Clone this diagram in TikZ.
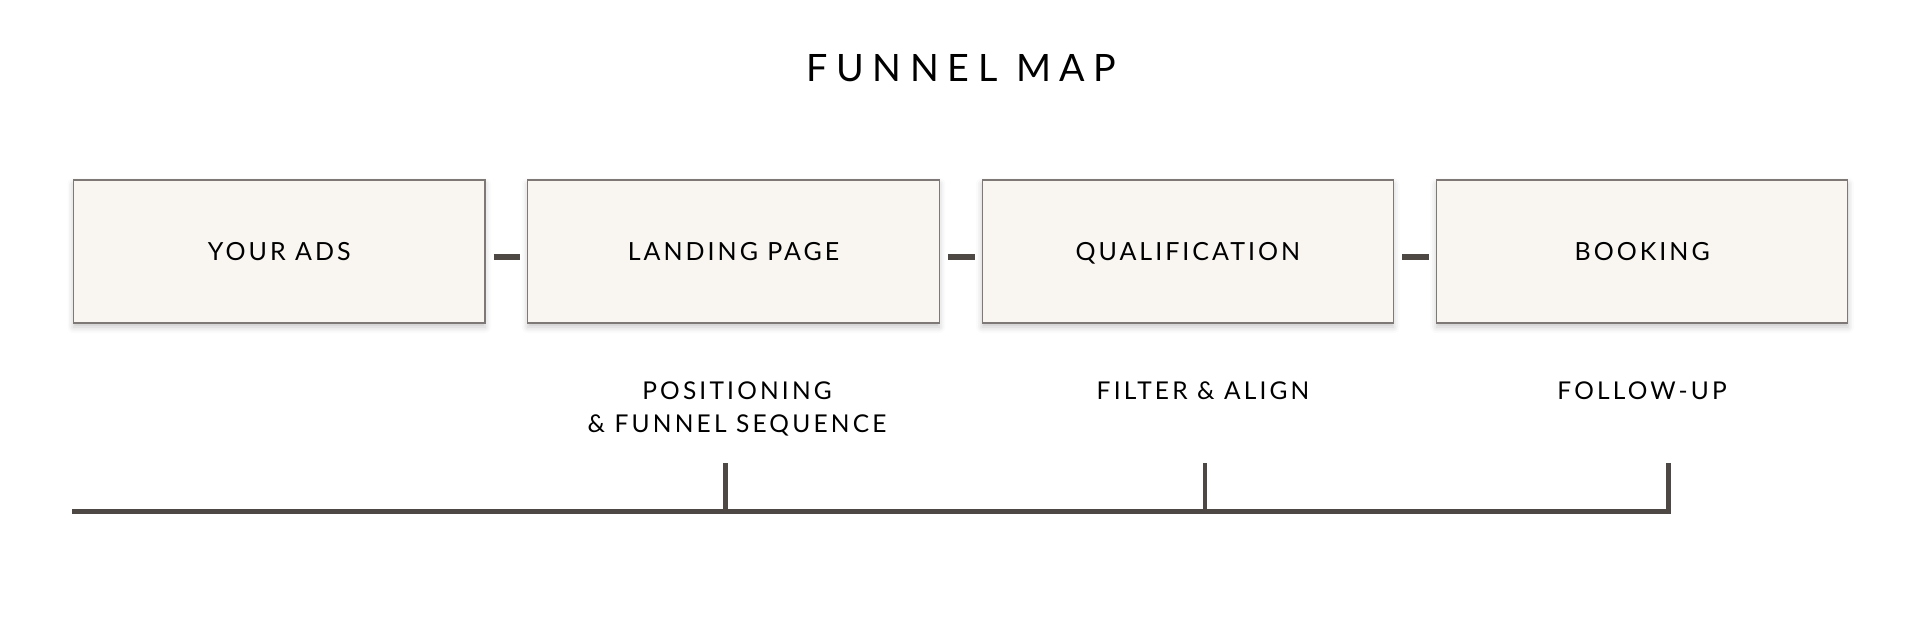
\documentclass[tikz,border=0pt]{standalone}
\usepackage{fontspec}
\setmainfont{Lato}
\newfontfamily\titlefont[LetterSpace=23]{Lato}
\newfontfamily\boxfont[LetterSpace=12]{Lato}
\newfontfamily\subfont[LetterSpace=13]{Lato}
\usetikzlibrary{shadows.blur}
\definecolor{boxfill}{HTML}{F9F6F2}
\definecolor{boxline}{HTML}{7E7976}
\definecolor{ink}{HTML}{4D4844}
\tikzset{
  stagebox/.style={draw=boxline, line width=1.1pt, fill=boxfill, minimum width=411.5pt, minimum height=143pt, inner sep=0pt,
    text height=18pt, text depth=0pt, font=\boxfont\fontsize{25}{30}\selectfont,
    blur shadow={shadow xshift=0pt, shadow yshift=-4pt, shadow blur radius=6pt, shadow opacity=22}},
  joiner/.style={draw=ink, line width=6pt},
  sublabel/.style={anchor=base, align=center, font=\subfont\fontsize{24.5}{33.4}\selectfont},
  rail/.style={draw=ink, line width=4.5pt, line join=miter},
}
\begin{document}
\begin{tikzpicture}[x=1pt, y=-1pt]
\useasboundingbox (0,0) rectangle (1920,626);
\node[anchor=base, font=\titlefont\fontsize{37.7}{40}\selectfont] (title) at (961.5,81.7) {FUNNEL MAP};
\node[stagebox] (ads) at (279.25,251.5) {YOUR ADS};
\node[stagebox] (landing) at (733.55,251.5) {LANDING PAGE};
\node[stagebox] (qual) at (1187.85,251.5) {QUALIFICATION};
\node[stagebox] (book) at (1642.15,251.5) {BOOKING};
\draw[joiner] ([xshift=8pt,yshift=-5pt]ads.east) -- ([xshift=-7pt,yshift=-5pt]landing.west);
\draw[joiner] ([xshift=8pt,yshift=-5pt]landing.east) -- ([xshift=-7pt,yshift=-5pt]qual.west);
\draw[joiner] ([xshift=8pt,yshift=-5pt]qual.east) -- ([xshift=-7pt,yshift=-5pt]book.west);
\node[sublabel] (pos) at (737,432.7) {POSITIONING\\\& FUNNEL SEQUENCE};
\node[sublabel] (filt) at (1203,399) {FILTER \& ALIGN};
\node[sublabel] (foll) at (1642,399) {FOLLOW-UP};
\coordinate (r0) at (72,511.5);
\coordinate (r1) at (725.5,511.5);
\coordinate (r2) at (1205,511.5);
\coordinate (r3) at (1668.5,511.5);
\coordinate (k1) at (725.5,462.7);
\coordinate (k2) at (1205,462.7);
\coordinate (k3) at (1668.5,462.7);
\draw[rail] (r0) -- (r3) -- (k3);
\draw[rail] (r1) -- (k1);
\draw[rail] (r2) -- (k2);
\end{tikzpicture}
\end{document}
